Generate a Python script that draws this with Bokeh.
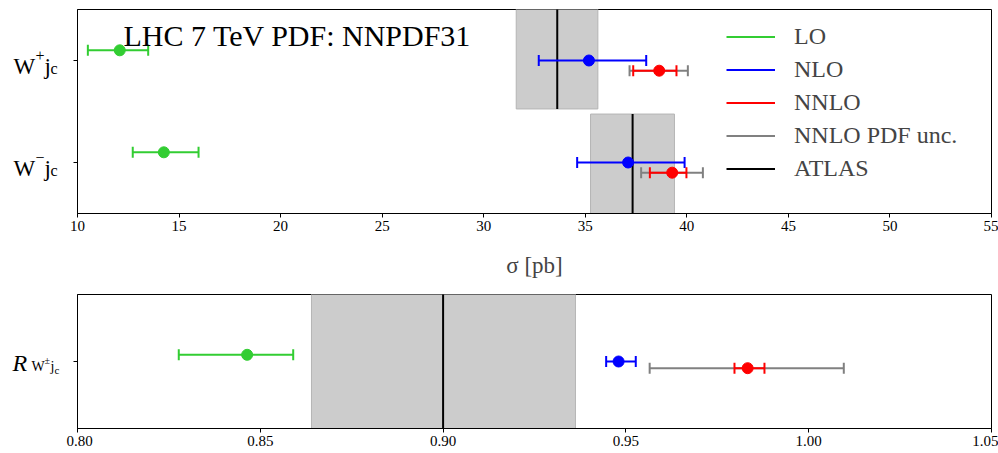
import numpy as np
from bokeh.plotting import figure
from bokeh.models import FixedTicker, Range1d, Label, Legend, LegendItem
from bokeh.layouts import column, row
from bokeh.embed import file_html
from bokeh.resources import INLINE

# ---------------- data ----------------
processes = ["W+jc", "W-jc"]
process_pos = [1, 0]

lo_val = [12.08, 14.25]
lo_low = [10.51, 12.72]
lo_high = [13.48, 15.96]

nlo_val = [35.18, 37.11]
nlo_low = [32.71, 34.60]
nlo_high = [38.00, 39.89]

nnlo_val = [38.64, 39.28]
nnlo_low = [37.36, 38.18]
nnlo_high = [39.49, 39.98]

nnlo_pdf_low = [37.18, 37.75]
nnlo_pdf_high = [40.05, 40.79]

atlas_val = [33.62, 37.33]
atlas_low = [31.60, 35.26]
atlas_high = [35.62, 39.39]

x_ticks_top = [10, 15, 20, 25, 30, 35, 40, 45, 50, 55]
x_tick_labels_top = ["10", "15", "20", "25", "30", "35", "40", "45", "50", "55"]

ratio_lo_val = [0.8464]
ratio_lo_low = [0.8277]
ratio_lo_high = [0.8590]
ratio_nlo_val = [0.9480]
ratio_nlo_low = [0.9446]
ratio_nlo_high = [0.9527]
ratio_nnlo_val = [0.9833]
ratio_nnlo_low = [0.9797]
ratio_nnlo_high = [0.9879]
ratio_pdf_low = [0.9565]
ratio_pdf_high = [1.0096]
ratio_atlas_val = [0.900]
ratio_atlas_low = [0.864]
ratio_atlas_high = [0.9362]

x_ticks_bottom = [0.80, 0.85, 0.90, 0.95, 1.00, 1.05]
x_tick_labels_bottom = ["0.80", "0.85", "0.90", "0.95", "1.00", "1.05"]

title_text = "LHC 7 TeV PDF: NNPDF31"
legend_labels = ["LO", "NLO", "NNLO", "NNLO PDF unc.", "ATLAS"]
x_label = "σ [pb]"
process_signs = ["+", "\u2212"]

# ---------------- style ----------------
C_LO = "#32cd32"
C_NLO = "#0000ff"
C_NNLO = "#ff0000"
C_PDF = "#808080"
C_ATLAS = "#000000"
BAND_FILL = "#cccccc"
BAND_LINE = "#b4b4b4"
FONT = "Liberation Serif"
LW = 2
MS = 11
CAP = 11
LABEL_W = 66          # width of the strip holding the y tick labels
TOP_H, BOT_H = 285, 168


def style_axes(p):
    p.xgrid.visible = False
    p.ygrid.visible = False
    p.outline_line_color = "black"
    p.outline_line_width = 1
    for ax in (p.xaxis[0], p.yaxis[0]):
        ax.axis_line_color = "black"
        ax.axis_line_width = 1
        ax.major_tick_in = 0
        ax.major_tick_out = 4
        ax.minor_tick_line_color = None
        ax.major_label_text_font = FONT
        ax.major_label_text_font_size = "15px"
        ax.major_label_text_color = "black"
        ax.major_label_standoff = 3


def errbar(p, yv, val, low, high, color):
    r = p.segment(x0=low, y0=yv, x1=high, y1=yv, line_color=color, line_width=LW)
    p.scatter(x=list(low) + list(high), y=list(yv) + list(yv), marker="dash",
              angle=np.pi / 2, size=CAP, line_color=color, line_width=LW)
    if val is not None:
        p.scatter(x=val, y=yv, marker="circle", size=MS, fill_color=color, line_color=color)
    return r


def label_strip(height, y_range, top, bottom):
    s = figure(width=LABEL_W, height=height, x_range=Range1d(0, LABEL_W), y_range=y_range,
               x_axis_type=None, y_axis_type=None, output_backend="svg",
               toolbar_location=None, min_border_left=0, min_border_right=0,
               min_border_top=top, min_border_bottom=bottom)
    s.outline_line_color = None
    s.xgrid.visible = False
    s.ygrid.visible = False
    return s


def add_pieces(p, yv, pieces):
    # pieces: (text, x px from strip left, baseline offset px, size, style)
    for text, dx, dy, size, style in pieces:
        p.add_layout(Label(x=dx, x_units="screen", y=yv, y_units="data", y_offset=dy,
                           text=text, text_font=FONT, text_font_size=f"{size}px",
                           text_font_style=style, text_color="black",
                           text_align="left", text_baseline="alphabetic"))


# ---------------- top panel ----------------
yr1 = Range1d(-0.5, 1.5)
p1 = figure(width=998 - LABEL_W, height=TOP_H, x_range=Range1d(10, 55), y_range=yr1,
            output_backend="svg", toolbar_location=None,
            min_border_left=77 - LABEL_W, min_border_right=7, min_border_top=9,
            min_border_bottom=72)
style_axes(p1)
p1.xaxis.ticker = FixedTicker(ticks=x_ticks_top)
p1.xaxis.major_label_overrides = {t: l for t, l in zip(x_ticks_top, x_tick_labels_top)}
p1.yaxis.ticker = FixedTicker(ticks=process_pos)
p1.yaxis.major_label_overrides = {t: "" for t in process_pos}
p1.xaxis.axis_label = x_label
p1.xaxis.axis_label_text_font = FONT
p1.xaxis.axis_label_text_font_style = "normal"
p1.xaxis.axis_label_text_font_size = "23px"
p1.xaxis.axis_label_standoff = 19

ypos = np.array(process_pos, dtype=float)
band_bottom = [y - 0.475 if y > 0.5 else y - 0.6 for y in ypos]
band_top = [y + 0.6 if y > 0.5 else y + 0.475 for y in ypos]
p1.quad(left=atlas_low, right=atlas_high, bottom=band_bottom, top=band_top,
        fill_color=BAND_FILL, line_color=BAND_LINE, line_width=1)
r_atlas = p1.segment(x0=atlas_val, y0=band_bottom, x1=atlas_val, y1=band_top,
                     line_color=C_ATLAS, line_width=LW)

r_lo = errbar(p1, ypos + 0.1, lo_val, lo_low, lo_high, C_LO)
r_nlo = errbar(p1, ypos, nlo_val, nlo_low, nlo_high, C_NLO)
r_pdf = errbar(p1, ypos - 0.1, None, nnlo_pdf_low, nnlo_pdf_high, C_PDF)
r_nnlo = errbar(p1, ypos - 0.1, nnlo_val, nnlo_low, nnlo_high, C_NNLO)

legend = Legend(items=[LegendItem(label=legend_labels[0], renderers=[r_lo]),
                       LegendItem(label=legend_labels[1], renderers=[r_nlo]),
                       LegendItem(label=legend_labels[2], renderers=[r_nnlo]),
                       LegendItem(label=legend_labels[3], renderers=[r_pdf]),
                       LegendItem(label=legend_labels[4], renderers=[r_atlas])],
                location=(649, 28), glyph_width=49, glyph_height=33, label_height=33,
                label_standoff=19, spacing=0, padding=0, margin=0,
                border_line_alpha=0, background_fill_alpha=0,
                label_text_font=FONT, label_text_font_size="24px")
p1.add_layout(legend)

p1.add_layout(Label(x=46, x_units="screen", y=1.5, y_units="data", y_offset=-26,
                    text=title_text, text_font=FONT, text_font_size="30px",
                    text_color="black", text_baseline="alphabetic"))

s1 = label_strip(TOP_H, yr1, 9, 72)
for yv, sign in zip(process_pos, process_signs):
    add_pieces(s1, yv, [("W", 13, -6, 23, "normal"),
                        (sign, 35, 5, 16, "normal"),
                        ("j", 44, -6, 23, "normal"),
                        ("c", 50, -8, 16, "normal")])

# ---------------- bottom panel ----------------
yr2 = Range1d(-1, 1)
p2 = figure(width=998 - LABEL_W, height=BOT_H, x_range=Range1d(0.80, 1.05), y_range=yr2,
            output_backend="svg", toolbar_location=None,
            min_border_left=77 - LABEL_W, min_border_right=7, min_border_top=9,
            min_border_bottom=25)
style_axes(p2)
p2.xaxis.ticker = FixedTicker(ticks=x_ticks_bottom)
p2.xaxis.major_label_overrides = {t: l for t, l in zip(x_ticks_bottom, x_tick_labels_bottom)}
p2.yaxis.ticker = FixedTicker(ticks=[0])
p2.yaxis.major_label_overrides = {0: ""}

p2.quad(left=ratio_atlas_low, right=ratio_atlas_high, bottom=[-1.5], top=[1.5],
        fill_color=BAND_FILL, line_color=BAND_LINE, line_width=1)
p2.segment(x0=ratio_atlas_val, y0=[-1.5], x1=ratio_atlas_val, y1=[1.5],
           line_color=C_ATLAS, line_width=LW)
y0 = np.array([0.0])
errbar(p2, y0 + 0.1, ratio_lo_val, ratio_lo_low, ratio_lo_high, C_LO)
errbar(p2, y0, ratio_nlo_val, ratio_nlo_low, ratio_nlo_high, C_NLO)
errbar(p2, y0 - 0.1, None, ratio_pdf_low, ratio_pdf_high, C_PDF)
errbar(p2, y0 - 0.1, ratio_nnlo_val, ratio_nnlo_low, ratio_nnlo_high, C_NNLO)

s2 = label_strip(BOT_H, yr2, 9, 25)
add_pieces(s2, 0, [("R", 12, -1, 24, "italic"),
                   ("W", 31, -5, 14, "normal"),
                   ("\u00b1", 44, 1, 10, "normal"),
                   ("j", 50, -5, 14, "normal"),
                   ("c", 54, -8, 11, "normal")])

layout = column(row(s1, p1, spacing=0), row(s2, p2, spacing=0), spacing=0)
open("out.html", "w").write(file_html(layout, INLINE))
